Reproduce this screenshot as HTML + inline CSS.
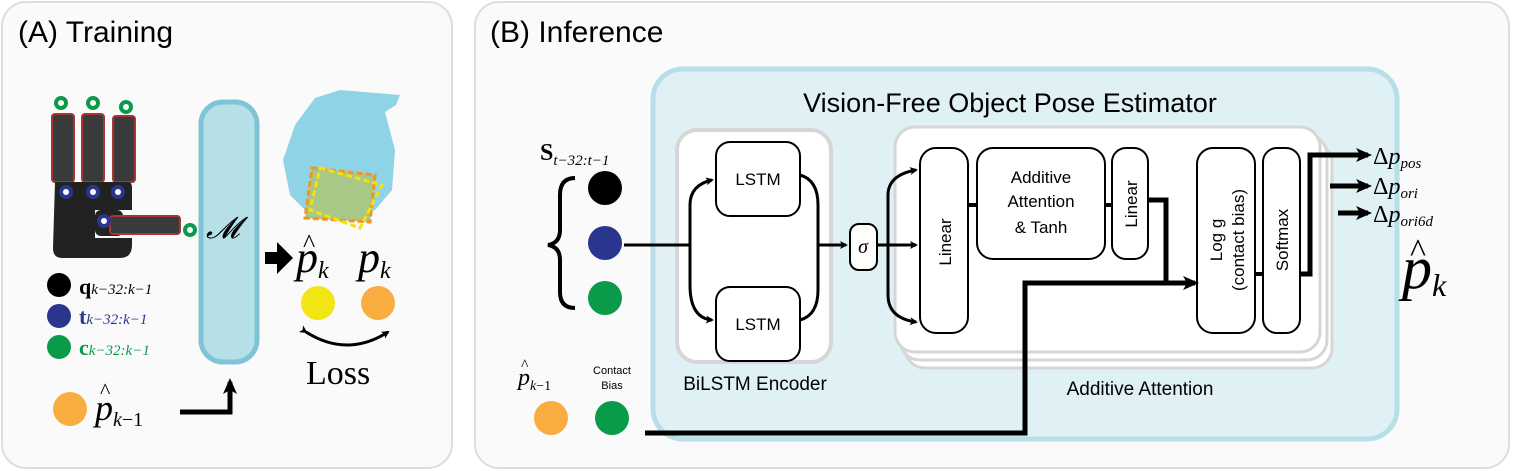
<!DOCTYPE html>
<html><head><meta charset="utf-8"><style>
body{margin:0;background:#fff}
svg{display:block}
text{font-family:"Liberation Sans",sans-serif}
.s{font-family:"Liberation Serif",serif}
.m{font-family:"Liberation Serif",serif;font-style:italic}
</style></head><body>
<svg width="1514" height="471" viewBox="0 0 1514 471" xmlns="http://www.w3.org/2000/svg">
<defs>
<marker id="ah" markerWidth="8" markerHeight="8" refX="6" refY="4" orient="auto" markerUnits="userSpaceOnUse"><path d="M0,0 L8,4 L0,8 L2,4 Z" fill="#000"/></marker>
<marker id="ah2" markerWidth="16" markerHeight="14" refX="12" refY="7" orient="auto" markerUnits="userSpaceOnUse"><path d="M0,0 L16,7 L0,14 L4,7 Z" fill="#000"/></marker>
</defs>
<!-- Panel A -->
<rect x="2" y="2" width="450" height="466" rx="24" fill="#fafafa" stroke="#ddd" stroke-width="2"/>
<text x="18" y="42" font-size="30">(A) Training</text>
<!-- hand -->
<g>
<rect x="52" y="114" width="22" height="68" rx="3" fill="#3a3a3a" stroke="#a33" stroke-width="2"/>
<rect x="82" y="114" width="22" height="68" rx="3" fill="#3a3a3a" stroke="#a33" stroke-width="2"/>
<rect x="113" y="116" width="22" height="66" rx="3" fill="#3a3a3a" stroke="#a33" stroke-width="2"/>
<path d="M55,182 H128 Q132,182 132,188 V245 Q132,258 120,258 H62 Q53,258 53,248 Z" fill="#222"/>
<rect x="95" y="210" width="40" height="28" fill="#fafafa"/>
<rect x="95" y="210" width="28" height="26" rx="6" fill="#222"/>
<rect x="110" y="216" width="70" height="18" rx="3" fill="#3a3a3a" stroke="#a33" stroke-width="2"/>
<circle cx="61" cy="103" r="5" fill="#fff" stroke="#0a9b4a" stroke-width="4"/>
<circle cx="93" cy="103" r="5" fill="#fff" stroke="#0a9b4a" stroke-width="4"/>
<circle cx="126" cy="107" r="5" fill="#fff" stroke="#0a9b4a" stroke-width="4"/>
<circle cx="190" cy="230" r="5" fill="#fff" stroke="#0a9b4a" stroke-width="4"/>
<circle cx="66" cy="192" r="5" fill="#fff" stroke="#2a3590" stroke-width="4"/>
<circle cx="93" cy="192" r="5" fill="#fff" stroke="#2a3590" stroke-width="4"/>
<circle cx="118" cy="192" r="5" fill="#fff" stroke="#2a3590" stroke-width="4"/>
<circle cx="104" cy="221" r="5" fill="#fff" stroke="#2a3590" stroke-width="4"/>
</g>
<circle cx="59" cy="285" r="12" fill="#000"/>
<circle cx="59" cy="316" r="12" fill="#2a3590"/>
<circle cx="59" cy="347" r="12" fill="#0a9b4a"/>
<text x="79" y="294" font-size="22" font-weight="bold" class="s">q<tspan class="m" font-size="15" font-weight="normal">k−32:k−1</tspan></text>
<text x="79" y="324" font-size="22" font-weight="bold" fill="#2a3590" class="s">t<tspan class="m" font-size="15" font-weight="normal">k−32:k−1</tspan></text>
<text x="79" y="355" font-size="22" font-weight="bold" fill="#0a9b4a" class="s">c<tspan class="m" font-size="15" font-weight="normal">k−32:k−1</tspan></text>
<rect x="201" y="102" width="56" height="260" rx="22" fill="#b5e0e8" stroke="#7fc4d6" stroke-width="5"/>
<text x="206" y="238" font-size="30" class="m">𝓜</text>
<!-- gripper -->
<g fill="#8fd3e6">
<path d="M315,98 L340,90 L400,95 L396,105 L385,112 L395,150 L392,190 L375,210 L345,220 L310,215 L290,195 L283,160 L295,125 Z"/>
</g>
<polygon points="312,168 375,175 370,222 305,218" fill="#a8c888" stroke="#f7941d" stroke-width="3" stroke-dasharray="6,3"/>
<polygon points="320,168 382,185 360,228 310,210" fill="none" stroke="#f5e010" stroke-width="3" stroke-dasharray="6,3"/>
<path d="M265,252 h12 v-10 l16,16 l-16,16 v-10 h-12 z" fill="#000"/>
<text x="296" y="272" font-size="44" class="m">p<tspan font-size="24" dy="6">k</tspan></text>
<text x="303" y="252" font-size="26" class="s">^</text>
<text x="358" y="272" font-size="44" class="m">p<tspan font-size="24" dy="6">k</tspan></text>
<circle cx="318" cy="303" r="17" fill="#f2e514"/>
<circle cx="378" cy="303" r="17" fill="#f9ac3f"/>
<path d="M306,332 Q347,358 388,332" fill="none" stroke="#000" stroke-width="3" marker-start="url(#ah)" marker-end="url(#ah)"/>
<text x="306" y="384" font-size="34" class="s">Loss</text>
<circle cx="70" cy="409" r="17" fill="#f9ac3f"/>
<text x="95" y="420" font-size="36" class="m">p<tspan font-size="20" dy="6">k</tspan><tspan font-size="20" font-style="normal">−1</tspan></text>
<text x="100" y="398" font-size="22" class="s">^</text>
<path d="M180,412 H230 V382" fill="none" stroke="#000" stroke-width="5" marker-end="url(#ah2)"/>
<!-- Panel B -->
<rect x="475" y="2" width="1034" height="466" rx="24" fill="#fafafa" stroke="#ddd" stroke-width="2"/>
<text x="490" y="42" font-size="30">(B) Inference</text>
<rect x="653" y="69" width="744" height="370" rx="30" fill="#e0f1f5" stroke="#b7dfe9" stroke-width="5"/>
<text x="1010" y="112" font-size="27" text-anchor="middle">Vision-Free Object Pose Estimator</text>
<!-- BiLSTM -->
<rect x="677" y="130" width="154" height="232" rx="20" fill="#fff" stroke="#d6d6d6" stroke-width="4"/>
<rect x="716" y="142" width="84" height="74" rx="14" fill="#fff" stroke="#000" stroke-width="2"/>
<rect x="716" y="287" width="84" height="74" rx="14" fill="#fff" stroke="#000" stroke-width="2"/>
<text x="758" y="185" font-size="17" text-anchor="middle">LSTM</text>
<text x="758" y="330" font-size="17" text-anchor="middle">LSTM</text>
<text x="755" y="390" font-size="19" text-anchor="middle">BiLSTM Encoder</text>
<!-- attention stack -->
<rect x="905" y="143" width="427" height="225" rx="20" fill="#fff" stroke="#d6d6d6" stroke-width="3"/>
<rect x="900" y="135" width="427" height="225" rx="20" fill="#fff" stroke="#d6d6d6" stroke-width="3"/>
<rect x="895" y="127" width="425" height="225" rx="20" fill="#fff" stroke="#d6d6d6" stroke-width="3"/>
<rect x="920" y="148" width="48" height="185" rx="16" fill="#fff" stroke="#000" stroke-width="2"/>
<rect x="977" y="148" width="128" height="111" rx="16" fill="#fff" stroke="#000" stroke-width="2"/>
<rect x="1112" y="148" width="36" height="111" rx="14" fill="#fff" stroke="#000" stroke-width="2"/>
<rect x="1197" y="148" width="58" height="185" rx="16" fill="#fff" stroke="#000" stroke-width="2"/>
<rect x="1263" y="148" width="37" height="185" rx="14" fill="#fff" stroke="#000" stroke-width="2"/>
<line x1="968" y1="205" x2="977" y2="205" stroke="#000" stroke-width="4"/>
<line x1="1105" y1="205" x2="1112" y2="205" stroke="#000" stroke-width="4"/>
<line x1="1255" y1="274" x2="1263" y2="274" stroke="#000" stroke-width="4"/>
<text transform="translate(951,242) rotate(-90)" font-size="17" text-anchor="middle">Linear</text>
<text transform="translate(1137,204) rotate(-90)" font-size="17" text-anchor="middle">Linear</text>
<text transform="translate(1222,240) rotate(-90)" font-size="17" text-anchor="middle">Log g</text>
<text transform="translate(1244,240) rotate(-90)" font-size="17" text-anchor="middle">(contact bias)</text>
<text transform="translate(1288,240) rotate(-90)" font-size="17" text-anchor="middle">Softmax</text>
<text x="1041" y="183" font-size="17" text-anchor="middle">Additive</text>
<text x="1041" y="207" font-size="17" text-anchor="middle">Attention</text>
<text x="1041" y="233" font-size="17" text-anchor="middle">&amp; Tanh</text>
<text x="1140" y="395" font-size="19" text-anchor="middle">Additive Attention</text>
<!-- sigma -->
<rect x="850" y="224" width="27" height="46" rx="9" fill="#fff" stroke="#000" stroke-width="2"/>
<text x="863" y="253" font-size="20" class="m" text-anchor="middle">σ</text>
<!-- inputs -->
<text x="540" y="160" font-size="24" font-weight="bold" class="s">S<tspan class="m" font-size="15" font-weight="normal" dy="5">t−32:t−1</tspan></text>
<path d="M575,178 Q560,178 560,195 V230 Q560,243 548,245 Q560,247 560,260 V292 Q560,308 575,308" fill="none" stroke="#000" stroke-width="4"/>
<circle cx="605" cy="188" r="17" fill="#000"/>
<circle cx="605" cy="243" r="17" fill="#2a3590"/>
<circle cx="605" cy="298" r="17" fill="#0a9b4a"/>
<line x1="624" y1="245" x2="690" y2="245" stroke="#000" stroke-width="3"/>
<path d="M690,245 V205 Q690,185 712,180" fill="none" stroke="#000" stroke-width="3" marker-end="url(#ah)"/>
<path d="M690,245 V285 Q690,318 712,320" fill="none" stroke="#000" stroke-width="3" marker-end="url(#ah)"/>
<path d="M800,175 Q818,180 818,205 V245 H846" fill="none" stroke="#000" stroke-width="3" marker-end="url(#ah)"/>
<path d="M800,320 Q818,315 818,290 V245" fill="none" stroke="#000" stroke-width="3"/>
<line x1="877" y1="245" x2="888" y2="245" stroke="#000" stroke-width="3"/>
<path d="M888,245 V195 Q888,175 916,170" fill="none" stroke="#000" stroke-width="3" marker-end="url(#ah)"/>
<line x1="888" y1="245" x2="916" y2="245" stroke="#000" stroke-width="3" marker-end="url(#ah)"/>
<path d="M888,245 V295 Q888,318 916,322" fill="none" stroke="#000" stroke-width="3" marker-end="url(#ah)"/>
<!-- bottom inputs -->
<text x="518" y="385" font-size="24" class="m">p<tspan font-size="14" dy="5">k</tspan><tspan font-size="14" font-style="normal">−1</tspan></text>
<text x="521" y="370" font-size="16" class="s">^</text>
<text x="612" y="374" font-size="11" text-anchor="middle">Contact</text>
<text x="612" y="389" font-size="11" text-anchor="middle">Bias</text>
<circle cx="551" cy="418" r="17" fill="#f9ac3f"/>
<circle cx="612" cy="418" r="17" fill="#0a9b4a"/>
<path d="M645,433 H1025 V283 H1195" fill="none" stroke="#000" stroke-width="5" marker-end="url(#ah2)"/>
<path d="M1148,200 H1166 V283" fill="none" stroke="#000" stroke-width="5"/>
<path d="M1300,274 H1310 V155 H1368" fill="none" stroke="#000" stroke-width="5" marker-end="url(#ah2)"/>
<line x1="1330" y1="186" x2="1368" y2="186" stroke="#000" stroke-width="5" marker-end="url(#ah2)"/>
<line x1="1338" y1="213" x2="1368" y2="213" stroke="#000" stroke-width="5" marker-end="url(#ah2)"/>
<text x="1373" y="164" font-size="24" class="s">Δ<tspan class="m">p</tspan><tspan class="m" font-size="15" dy="4">pos</tspan></text>
<text x="1373" y="194" font-size="24" class="s">Δ<tspan class="m">p</tspan><tspan class="m" font-size="15" dy="4">ori</tspan></text>
<text x="1373" y="222" font-size="24" class="s">Δ<tspan class="m">p</tspan><tspan class="m" font-size="15" dy="4">ori6d</tspan></text>
<text x="1402" y="288" font-size="60" class="m">p<tspan font-size="32" dy="8">k</tspan></text>
<text x="1410" y="262" font-size="34" class="s">^</text>
</svg>
</body></html>
